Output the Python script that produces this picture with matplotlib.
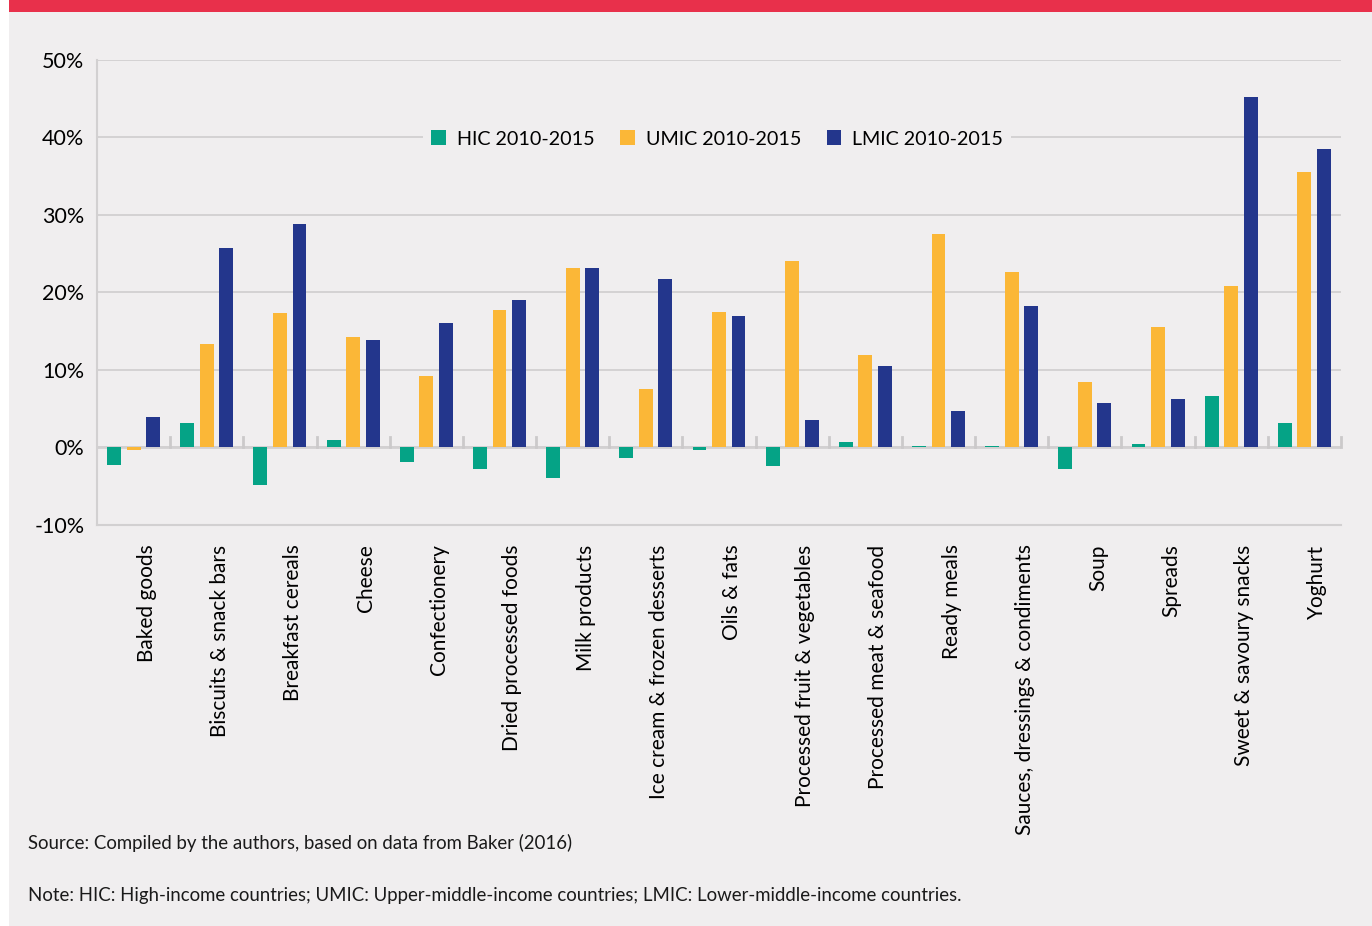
#!/usr/bin/env python3

import matplotlib
matplotlib.use("Agg")
import matplotlib.pyplot as plt
import numpy as np
from matplotlib.patches import Rectangle
from matplotlib.transforms import ScaledTranslation

categories = ["Baked goods", "Biscuits & snack bars", "Breakfast cereals", "Cheese",
              "Confectionery", "Dried processed foods", "Milk products",
              "Ice cream & frozen desserts", "Oils & fats", "Processed fruit & vegetables",
              "Processed meat & seafood", "Ready meals", "Sauces, dressings & condiments",
              "Soup", "Spreads", "Sweet & savoury snacks", "Yoghurt"]

hic = [-2.2, 3.2, -4.8, 1.0, -1.9, -2.8, -3.9, -1.35, -0.3, -2.4,
       0.7, 0.2, 0.2, -2.8, 0.45, 6.6, 3.1]
umic = [-0.3, 13.3, 17.3, 14.2, 9.2, 17.7, 23.1, 7.6, 17.5, 24.1,
        11.9, 27.6, 22.6, 8.5, 15.6, 20.9, 35.6]
lmic = [3.9, 25.7, 28.8, 13.9, 16.0, 19.0, 23.1, 21.8, 17.0, 3.5,
        10.5, 4.7, 18.3, 5.7, 6.2, 45.2, 38.5]

series_names = ["HIC 2010-2015", "UMIC 2010-2015", "LMIC 2010-2015"]
colors = ["#05a386", "#fbb737", "#23368c"]

bg = "#f0eeef"
grid_c = "#d2d0d1"

plt.rcParams['font.family'] = ['Lato', 'DejaVu Sans']

fig = plt.figure(figsize=(13.72, 9.26), dpi=100)
fig.patch.set_facecolor(bg)
# white strip on the left and red band on top
fig.add_artist(Rectangle((0, 0), 9 / 1372, 1, transform=fig.transFigure,
                         facecolor="white", edgecolor="none"))
fig.add_artist(Rectangle((9 / 1372, 1 - 12 / 926), 1, 12 / 926, transform=fig.transFigure,
                         facecolor="#e8304b", edgecolor="none"))

ax = fig.add_axes([97 / 1372, 1 - 525 / 926, (1341 - 97) / 1372, (525 - 60) / 926])
ax.set_facecolor(bg)

x = np.arange(len(categories))
w = 0.19
off = 0.267
for i, (vals, name) in enumerate(zip([hic, umic, lmic], series_names)):
    ax.bar(x + (i - 1) * off, vals, w, color=colors[i], label=name, zorder=3)

ax.set_xlim(-0.5, len(categories) - 0.5)
ax.set_ylim(-10, 50)
ax.set_yticks(range(-10, 51, 10))
ax.set_yticklabels([f"{v}%" for v in range(-10, 51, 10)], fontsize=15.5)
ax.tick_params(axis='y', length=0, pad=9)
ax.yaxis.grid(True, color=grid_c, linewidth=1.3, zorder=0)
ax.axhline(0, color=grid_c, linewidth=2, zorder=2)

# small separator ticks on the zero line
for b in np.arange(0.5, len(categories) + 0.1, 1.0):
    ax.plot([b, b], [0, 1.4], color="#cbc9ca", linewidth=2, zorder=2, clip_on=False)

ax.set_xticks(x)
ax.set_xticklabels(categories, rotation=90, fontsize=15, va='top', ha='center')
ax.tick_params(axis='x', length=0, pad=14)
# labels sit a little right of the group centres in the original
shift = ScaledTranslation(13 / 100, 0, fig.dpi_scale_trans)
for lbl in ax.get_xticklabels():
    lbl.set_transform(lbl.get_transform() + shift)

for s in ['top', 'right']:
    ax.spines[s].set_visible(False)
for s in ['left', 'bottom']:
    ax.spines[s].set_color(grid_c)
    ax.spines[s].set_linewidth(1.5)

leg = ax.legend(loc='center', bbox_to_anchor=(0.4985, 0.83), ncol=3, frameon=True,
                fontsize=14.2, handlelength=0.75, handleheight=0.75, columnspacing=1.3,
                handletextpad=0.55, borderpad=0.4)
leg.get_frame().set_facecolor(bg)
leg.get_frame().set_edgecolor('none')
leg.get_frame().set_alpha(1)
leg.set_zorder(5)

fig.text(28 / 1372, 1 - 843 / 926, "Source: Compiled by the authors, based on data from Baker (2016)",
         fontsize=13.4, va='center', ha='left', color='#1a1a1a')
fig.text(28 / 1372, 1 - 896 / 926, "Note: HIC: High-income countries; UMIC: Upper-middle-income countries; "
         "LMIC: Lower-middle-income countries.", fontsize=13.4, va='center', ha='left', color='#1a1a1a')

fig.savefig("out.png", dpi=100, facecolor=fig.get_facecolor())
